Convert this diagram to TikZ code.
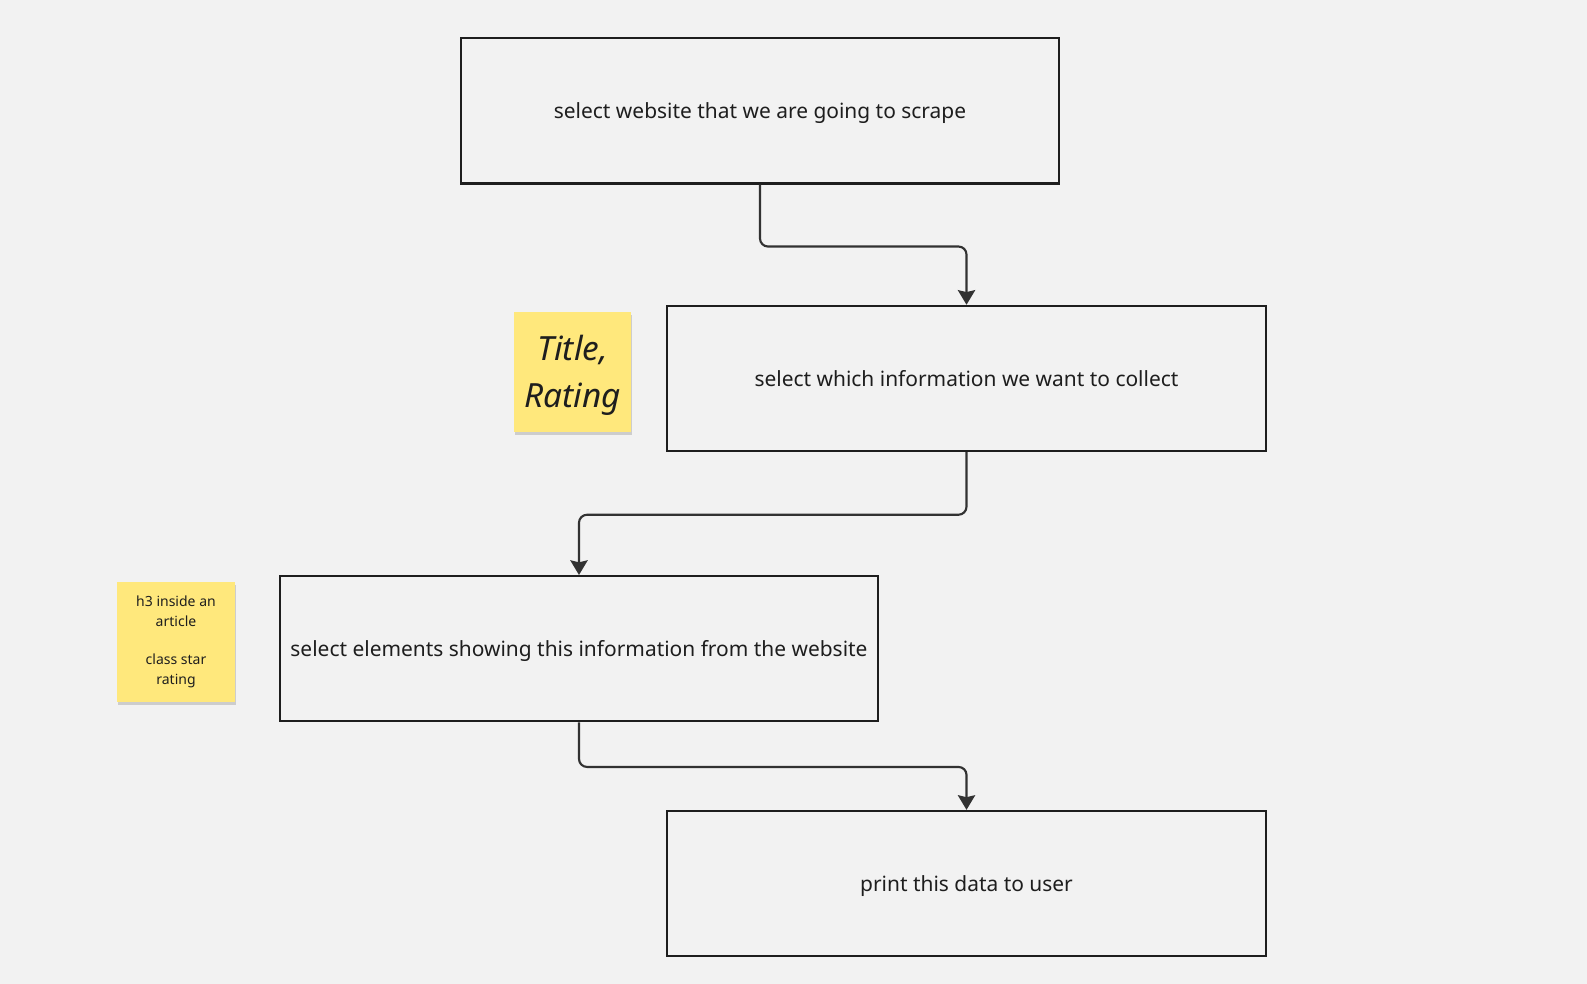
\documentclass[tikz,border=0pt]{standalone}
\usepackage{fontspec}
\setmainfont{Noto Sans}
\usetikzlibrary{calc, arrows.meta, shadows}

\definecolor{canvas}{RGB}{242,242,242}
\definecolor{ink}{RGB}{30,30,30}
\definecolor{wire}{RGB}{50,50,50}
\definecolor{sticky}{RGB}{255,232,124}

\tikzset{
    stepbox/.style={draw=ink, line width=1.6pt, fill=canvas, minimum width=449pt, minimum height=109pt, font=\fontsize{15.7}{18}\selectfont, text=ink, text depth=0pt, inner sep=0pt},
    note/.style={fill=sticky, minimum width=88pt, minimum height=90pt, align=center, text=ink, inner sep=0pt,
        drop shadow={shadow xshift=0.8pt, shadow yshift=-2pt, opacity=0.15, fill=black}},
    flow/.style={draw=wire, line width=1.6pt, rounded corners=6pt, -{Stealth[length=11pt,width=13pt,inset=1.5pt]}}
}

\begin{document}
\begin{tikzpicture}[x=0.75pt, y=-0.75pt]
    \fill[canvas] (0,0) rectangle (1587,984);
    \useasboundingbox (0,0) rectangle (1587,984);
    % steps
    \node[stepbox] (site) at (760,110.8) {select website that we are going to scrape};
    \node[stepbox] (info) at (966.5,378.5) {select which information we want to collect};
    \node[stepbox] (elems) at (579,648.7) {select elements showing this information from the website};
    \node[stepbox] (print) at (966.5,883.6) {print this data to user};
    % notes
    \node[note, font=\fontsize{25}{35}\selectfont\itshape, text depth=2pt] (fields) at (572.7,372.4) {Title,\\Rating};
    \node[note, font=\fontsize{10.5}{14.5}\selectfont] (tags) at (176,642) {h3 inside an\\article\\[14.5pt]class star\\rating};
    % arrows
    \draw[flow] (site.south) -- ++(0,62) -| (info.north);
    \draw[flow] (info.south) -- ++(0,62.5) -| (elems.north);
    \draw[flow] (elems.south) -- ++(0,44.5) -| (print.north);
\end{tikzpicture}
\end{document}
